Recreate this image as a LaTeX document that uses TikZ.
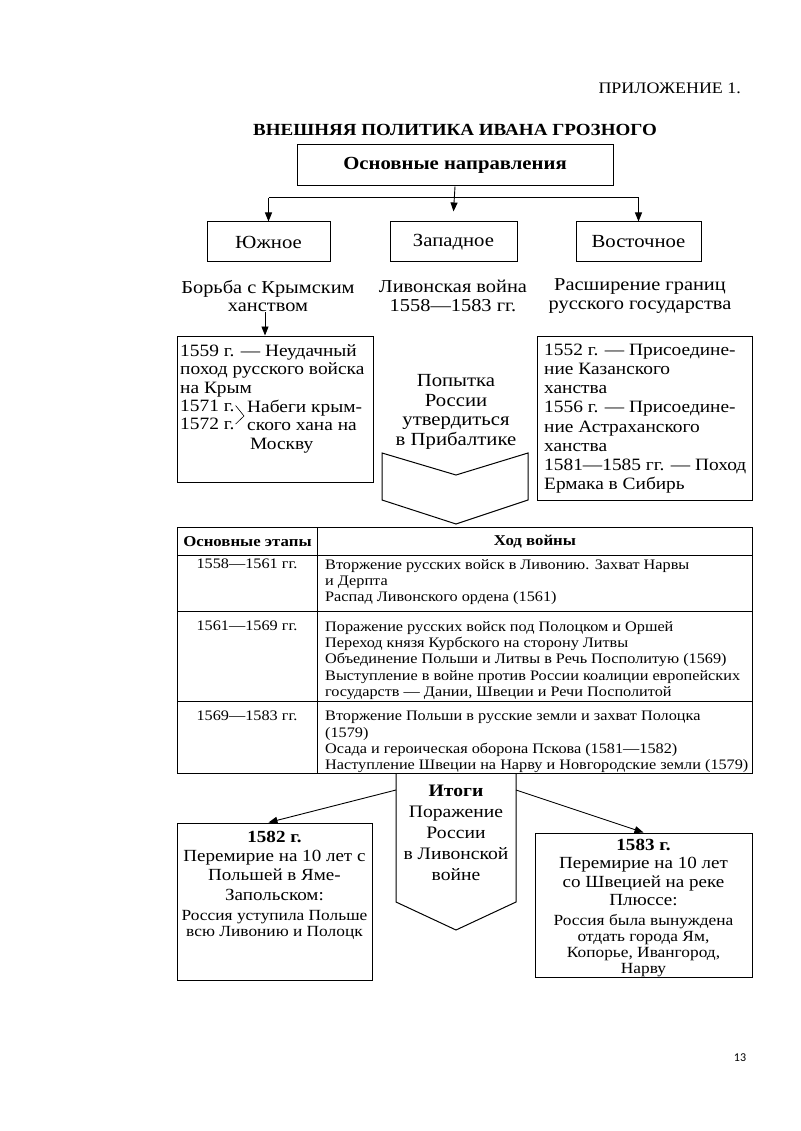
\documentclass[tikz,border=0pt]{standalone}
\usepackage{fontspec}
\setmainfont{Liberation Serif}[FakeStretch=1.12]
\newfontfamily\pagenumfont{Carlito}
\usetikzlibrary{arrows.meta, positioning, calc}

\begin{document}
\begin{tikzpicture}[
    x=1pt, y=-1pt,
    box/.style={rectangle, draw=black, line width=1pt, inner sep=0pt},
    cell/.style={rectangle, draw=black, line width=0.9pt, inner sep=0pt, anchor=north west},
    txt/.style={inner sep=0pt, align=center, font=\fontsize{18.2}{18.5}\selectfont},
    boxtxt/.style={inner sep=0pt, align=left, font=\fontsize{17.3}{18.5}\selectfont},
    tabtxt/.style={inner sep=0pt, align=left, font=\fontsize{14.5}{16.3}\selectfont},
    restxt/.style={inner sep=0pt, align=center, font=\fontsize{17}{19.2}\selectfont},
    smalltxt/.style={inner sep=0pt, align=center, font=\fontsize{15.5}{16}\selectfont},
    arr/.style={-{Triangle[length=9pt, width=7pt]}, line width=0.9pt},
    seg/.style={line width=1pt},
]
\useasboundingbox (0,0) rectangle (800,1131);

% Heading
\node[anchor=east, inner sep=0pt, font=\fontsize{16}{18}\selectfont] (app) at (741,88) {ПРИЛОЖЕНИЕ 1.};
\node[inner sep=0pt, font=\fontsize{17}{19}\selectfont\bfseries] (title) at (455,130) {ВНЕШНЯЯ ПОЛИТИКА ИВАНА ГРОЗНОГО};

% Row 1: directions
\node[box, minimum width=316pt, minimum height=41pt, font=\fontsize{18.5}{20}\selectfont\bfseries] (dir) at (455,165.5) {Основные направления};
\node[box, minimum width=123pt, minimum height=40pt, font=\fontsize{18.5}{20}\selectfont] (south) at (268.5,242) {Южное};
\node[box, minimum width=127pt, minimum height=40pt, font=\fontsize{18.5}{20}\selectfont] (west) at (453.5,242) {Западное};
\node[box, minimum width=125pt, minimum height=40pt, font=\fontsize{18.5}{20}\selectfont] (east) at (638.5,242) {Восточное};

\coordinate (fork) at (455,198);
\draw[seg] (south.north |- fork) -- (east.north |- fork);
\draw[arr] (south.north |- fork) -- (south.north);
\draw[arr] (east.north |- fork) -- (east.north);
\draw[arr] (dir.south) -- ([yshift=10pt]west.north);

\node[txt] (ssub) at (268,296) {Борьба с Крымским\\ханством};
\node[txt] (wsub) at (453,296) {Ливонская война\\1558—1583 гг.};
\node[txt] (esub) at (640,296) {Расширение границ\\русского государства};

% Row 2: details
\node[box, minimum width=196pt, minimum height=146pt] (sbox) at (275,409) {};
\node[box, minimum width=215pt, minimum height=164pt] (ebox) at (644.5,418) {};
\draw[arr] ([xshift=-3pt]ssub.south) -- ([xshift=-3pt]ssub.south |- sbox.north);

\node[boxtxt, anchor=north west] (crimea) at (180,344) {1559 г. — Неудачный\\поход русского войска\\на Крым};
\node[boxtxt, anchor=north west] (y71) at (180,399.5) {1571 г.};
\node[boxtxt, anchor=north west] (y72) at (180,418) {1572 г.};
\node[boxtxt, anchor=north west] (raid) at (247,399.5) {Набеги крым-\\ского хана на\\\hspace*{3pt}Москву};
\coordinate (brk) at (244,416);
\draw[line width=0.6pt] ([xshift=1pt]y71.east) -- (brk) -- ([xshift=1pt]y72.east);

\node[boxtxt, anchor=north west, font=\fontsize{17.3}{19.1}\selectfont] (annex) at (544,344) {1552 г. — Присоедине-\\ние Казанского\\ханства\\1556 г. — Присоедине-\\ние Астраханского\\ханства\\1581—1585 гг. — Поход\\Ермака в Сибирь};

\node[txt, font=\fontsize{18.5}{19.6}\selectfont] (baltic) at (456,412) {Попытка\\России\\утвердиться\\в Прибалтике};
\draw[seg] (382,453) -- (456,475) -- (528,453) -- (528,500) -- (456,524) -- (382,500) -- cycle;

% Table
\node[cell, minimum width=140pt, minimum height=28pt, font=\fontsize{15}{16}\selectfont\bfseries] (th1) at (177,527) {Основные этапы};
\node[cell, minimum width=435pt, minimum height=28pt, font=\fontsize{15}{16}\selectfont\bfseries] (th2) at (317,527) {Ход войны};
\node[cell, minimum width=140pt, minimum height=56pt] (r1a) at (177,555) {};
\node[cell, minimum width=435pt, minimum height=56pt] (r1b) at (317,555) {};
\node[cell, minimum width=140pt, minimum height=90pt] (r2a) at (177,611) {};
\node[cell, minimum width=435pt, minimum height=90pt] (r2b) at (317,611) {};
\node[cell, minimum width=140pt, minimum height=72pt] (r3a) at (177,701) {};
\node[cell, minimum width=435pt, minimum height=72pt] (r3b) at (317,701) {};

\node[tabtxt, anchor=north] (p1) at (247,559) {1558—1561 гг.};
\node[tabtxt, anchor=north] (p2) at (247,621) {1561—1569 гг.};
\node[tabtxt, anchor=north] (p3) at (247,711) {1569—1583 гг.};
\node[tabtxt, anchor=north west] (c1) at (325,559) {Вторжение русских войск в Ливонию. Захват Нарвы\\и Дерпта\\Распад Ливонского ордена (1561)};
\node[tabtxt, anchor=north west] (c2) at (325,621) {Поражение русских войск под Полоцком и Оршей\\Переход князя Курбского на сторону Литвы\\Объединение Польши и Литвы в Речь Посполитую (1569)\\Выступление в войне против России коалиции европейских\\государств — Дании, Швеции и Речи Посполитой};
\node[tabtxt, anchor=north west] (c3) at (325,711) {Вторжение Польши в русские земли и захват Полоцка\\(1579)\\Осада и героическая оборона Пскова (1581—1582)\\Наступление Швеции на Нарву и Новгородские земли (1579)};

% Results
\draw[seg] (396,773) -- (396,902) -- (456,930) -- (516,902) -- (516,773);
\node[txt, font=\fontsize{17.5}{21}\selectfont] (itogi) at (456,833) {\textbf{Итоги}\\Поражение\\России\\в Ливонской\\войне};
\coordinate (itl) at (396,790);
\coordinate (itr) at (516,790);

\node[box, minimum width=195pt, minimum height=157pt] (res82) at (274.5,901.5) {};
\node[box, minimum width=217pt, minimum height=144pt] (res83) at (643.5,905) {};
\draw[arr] (itl) -- ([xshift=-6pt]res82.north);
\draw[arr] (itr) -- (res83.north);

\node[restxt, anchor=north] (t82) at (274.5,831) {\textbf{1582 г.}\\Перемирие на 10 лет с\\Польшей в Яме-\\Запольском:};
\node[smalltxt, anchor=north] (s82) at (274.5,910) {Россия уступила Польше\\всю Ливонию и Полоцк};
\node[restxt, anchor=north, font=\fontsize{17}{18.4}\selectfont] (t83) at (643.5,839) {\textbf{1583 г.}\\Перемирие на 10 лет\\со Швецией на реке\\Плюссе:};
\node[smalltxt, anchor=north] (s83) at (643.5,914) {Россия была вынуждена\\отдать города Ям,\\Копорье, Ивангород,\\Нарву};

\node[inner sep=0pt, font=\pagenumfont\fontsize{12}{14}\selectfont] (pnum) at (740,1058) {13};

\end{tikzpicture}
\end{document}
